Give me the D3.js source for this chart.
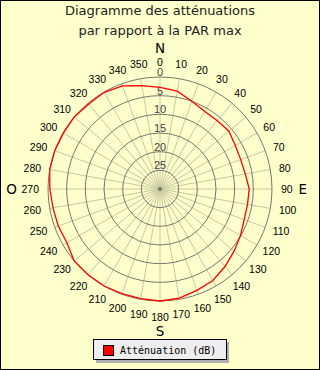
<!DOCTYPE html>
<html><head><meta charset="utf-8">
<script src="https://cdn.jsdelivr.net/npm/d3@7"></script>
<style>html,body{margin:0;padding:0;background:#fff}svg{display:block}</style>
</head><body><svg id="c" width="320" height="370"></svg>
<script>
const titleLines = ["Diagramme des atténuations", "par rapport à la PAR max"];
const angles = [0,10,20,30,40,50,60,70,80,90,100,110,120,130,140,150,160,170,180,190,200,210,220,230,240,250,260,270,280,290,300,310,320,330,340,350];
const attenuation = [2.8,3.4,5.0,6.0,6.1,5.9,6.7,7.0,6.8,6.1,6.2,6.0,5.1,4.1,2.9,1.7,1.1,0.3,0.0,0.2,0.2,0.0,0.0,0.0,1.2,1.0,0.9,0.5,0.0,0.0,0.1,0.0,0.3,0.1,0.6,1.9];
const ringValues = [0,5,10,15,20,25];
const compass = [{t:"N",a:0},{t:"E",a:90},{t:"S",a:180},{t:"O",a:270}];
const seriesName = "Atténuation (dB)";

const svg = d3.select("#c");
const W=320,H=370, cx=160, cy=189, R=112;
svg.append("rect").attr("x",0.5).attr("y",0.5).attr("width",W-1).attr("height",H-1)
  .attr("fill","#ffffcc").attr("stroke","#000");

svg.selectAll("text.title").data(titleLines).enter().append("text")
  .attr("x",160).attr("y",(d,i)=>15+i*20).attr("text-anchor","middle")
  .attr("font-family","DejaVu Sans").attr("font-size",13).attr("fill","#222").text(d=>d);

const r = d3.scaleLinear().domain([0,30]).range([R,0]);
const rad = d3.scaleLinear().domain([0,360]).range([0,2*Math.PI]);
const g = svg.append("g").attr("transform",`translate(${cx},${cy})`);

// spokes
g.selectAll("line.spoke").data(angles).enter().append("line")
  .attr("x1",0).attr("y1",0)
  .attr("x2",d=>R*Math.sin(rad(d))).attr("y2",d=>-R*Math.cos(rad(d)))
  .attr("stroke","#c8c8a0").attr("stroke-width",1);
// rings
g.selectAll("circle.ring").data(ringValues).enter().append("circle")
  .attr("r",d=>r(d)).attr("fill","none").attr("stroke","#77776f").attr("stroke-width",1);
g.append("circle").attr("r",2).attr("fill","#777");
// ring labels
g.selectAll("text.rl").data(ringValues).enter().append("text")
  .attr("x",0).attr("y",d=>-r(d)-1).attr("text-anchor","middle")
  .attr("font-family","Liberation Sans").attr("font-size",11).attr("fill","#444").text(d=>d);

// data line
const line = d3.lineRadial().curve(d3.curveLinearClosed)
  .angle((d,i)=>rad(angles[i])).radius(d=>r(d));
g.append("path").datum(attenuation).attr("d",line).attr("fill","none")
  .attr("stroke","#ff0000").attr("stroke-width",1.3);

// angle labels
const lab = g.selectAll("text.al").data(angles).enter().append("text")
  .attr("font-family","Liberation Sans").attr("font-size",10.5).attr("fill","#000")
  .attr("text-anchor","middle").attr("dominant-baseline","central").text(d=>d);
const extents = {};
lab.each(function(d){
  const w=this.getComputedTextLength(), s=Math.sin(rad(d)), c=Math.cos(rad(d));
  const x=(121+w/2*Math.abs(s))*s, y=-(121+6.5*Math.abs(c))*c;
  d3.select(this).attr("x",x).attr("y",y);
  extents[d]={x,y,w};
});
// compass letters
g.selectAll("text.cp").data(compass).enter().append("text")
  .attr("font-family","DejaVu Sans").attr("font-size",13.5).attr("fill","#000")
  .attr("text-anchor","middle").attr("dominant-baseline","central")
  .attr("x",d=>{const s=Math.round(Math.sin(rad(d.a))); if(!s) return 0; const e=extents[d.a]; return e.x+s*(e.w/2+10);})
  .attr("y",d=>{const c=Math.round(Math.cos(rad(d.a))); if(!c) return 0; return -c*141.5;})
  .text(d=>d.t);

// legend
const lg = svg.append("g");
lg.append("rect").attr("x",96).attr("y",342).attr("width",133).attr("height",21).attr("fill","#b0b0b0");
lg.append("rect").attr("x",93.5).attr("y",339.5).attr("width",133).attr("height",20).attr("fill","#eeeeee").attr("stroke","#000");
lg.append("rect").attr("x",103.5).attr("y",345.5).attr("width",10).attr("height",10).attr("fill","#ff0000").attr("stroke","#000");
lg.append("text").attr("x",120).attr("y",353.5).attr("font-family","DejaVu Sans Mono").attr("font-size",10)
  .attr("fill","#000").text(seriesName);
</script></body></html>
